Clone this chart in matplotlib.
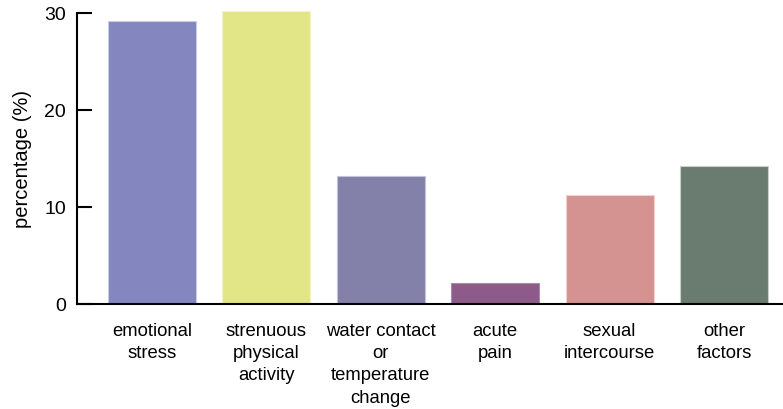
import matplotlib.pyplot as plt

plt.rcParams['font.family'] = ['Liberation Sans', 'DejaVu Sans']

# data
categories = ["emotional\nstress", "strenuous\nphysical\nactivity",
              "water contact\nor\ntemperature\nchange", "acute\npain",
              "sexual\nintercourse", "other\nfactors"]
values = [29.2, 30.2, 13.2, 2.2, 11.2, 14.2]
colors = ["#8386bf", "#e2e686", "#8381aa", "#8e5a8a", "#d49390", "#6a7c70"]
edges = ["#c9cbea", "#f2f4c2", "#c4c3dc", "#a48ac4", "#f0d2d0", "#c8d0ca"]
yticks = [0, 10, 20, 30]

fig = plt.figure(figsize=(7.83, 4.10), dpi=100)
ax = fig.add_axes([77/783, 105/410, 706/783, 293/410])

x = list(range(len(categories)))
ax.bar(x, values, width=0.77, color=colors, edgecolor=edges, linewidth=0.8)

ax.set_xlim(-0.655, 5.515)
ax.set_ylim(0, 30.2)
ax.set_yticks(yticks)
ax.set_xticks(x)
ax.set_xticklabels(categories, fontsize=13.3, linespacing=1.4, va='top')
ax.tick_params(axis='x', length=0, pad=13)
ax.tick_params(axis='y', direction='in', length=11, width=1.5, labelsize=14, pad=8)
ax.set_ylabel("percentage (%)", fontsize=14.5, labelpad=9)

for s in ['top', 'right']:
    ax.spines[s].set_visible(False)
ax.spines['left'].set_bounds(0, 30)
ax.spines['left'].set_linewidth(1.5)
ax.spines['bottom'].set_linewidth(1.5)

fig.savefig("out.png", dpi=100)
